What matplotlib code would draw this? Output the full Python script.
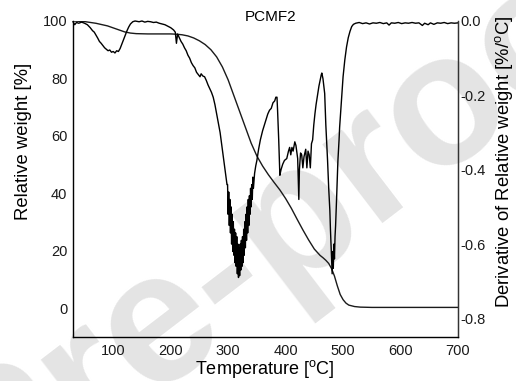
import matplotlib
matplotlib.use("Agg")
import matplotlib.pyplot as plt

plt.rcParams['font.family'] = ['Liberation Sans', 'DejaVu Sans']
plt.rcParams['mathtext.fontset'] = 'custom'
plt.rcParams['mathtext.rm'] = 'Liberation Sans'
plt.rcParams['axes.unicode_minus'] = False

# relative weight (smooth TGA curve)
wt_temp = [30, 50, 70, 90, 100, 110, 120, 130, 140, 160, 180, 200, 210, 220, 230,
           240, 250, 260, 270, 280, 290, 300, 310, 320, 330, 340, 350, 360, 370,
           380, 390, 400, 410, 420, 430, 440, 450, 460, 465, 470, 475, 480, 485,
           490, 495, 500, 505, 510, 520, 530, 550, 600, 650, 700]
wt_val = [100.0, 99.8, 99.2, 98.3, 97.6, 96.9, 96.2, 95.8, 95.6, 95.5, 95.5, 95.5, 95.4, 95.2, 94.8,
          94.1, 93.1, 91.8, 90.0, 87.5, 84.0, 79.5, 74.0, 68.5, 63.0, 57.5, 53.0, 49.5, 46.5,
          43.8, 41.2, 38.2, 34.8, 31.0, 27.3, 23.8, 20.6, 18.4, 17.6, 16.7, 15.6, 13.8, 11.2,
          7.8, 4.8, 3.0, 1.8, 1.1, 0.6, 0.4, 0.3, 0.3, 0.3, 0.3]

# derivative of relative weight (noisy DTG curve)
der_temp = [30, 33, 36, 40, 45, 50, 55, 60, 64, 67, 70, 73, 76, 79, 82, 85, 88, 91, 94, 97,
            100, 103, 106, 109, 112, 115, 118, 121, 124, 127, 130, 134, 138, 145, 150, 155,
            160, 165, 170, 175, 180, 185, 190, 195, 200, 205, 208, 210, 212, 215, 218, 221,
            224, 227, 230, 233, 236, 239, 242, 245, 248, 251, 253, 256, 259, 262, 265, 268,
            271, 274, 277, 280, 283, 286, 289, 292, 295, 298,
            299, 300, 301, 302, 303, 304, 305, 306, 307, 308, 309, 310, 311, 312, 313, 314,
            315, 316, 317, 318, 319, 320, 321, 322, 323, 324, 325, 326, 327, 328, 329, 330,
            331, 332, 333, 334, 335, 336, 337, 338, 339, 340, 341, 342, 343, 344, 346, 348,
            350, 353, 356, 360, 363, 366, 369, 372, 375, 378, 381, 383, 385, 386, 388, 390,
            392, 395, 398, 402, 405, 407, 409, 411, 413, 416, 418, 421, 423, 424, 426, 428,
            430, 432, 435, 437, 439, 441, 443, 445, 447, 449, 451, 453, 456, 458, 460, 462,
            463, 465, 468, 470, 473, 475, 477, 478, 479, 480, 481, 482, 483, 484, 485, 486,
            487, 488, 489, 490, 491, 493, 494, 496, 498, 500, 503, 506, 509, 512, 515, 518,
            522, 528, 534, 540, 546, 552, 558, 564, 570, 576, 580, 584, 590, 596, 602, 608,
            614, 620, 626, 632, 638, 642, 648, 652, 658, 664, 670, 676, 682, 688, 694, 700]
der_val = [-0.002, -0.010, -0.004, -0.006, -0.003, -0.006, -0.010, -0.018, -0.026, -0.030,
           -0.038, -0.046, -0.055, -0.060, -0.066, -0.072, -0.076, -0.080, -0.078, -0.084,
           -0.082, -0.086, -0.080, -0.082, -0.074, -0.062, -0.050, -0.038, -0.026, -0.016,
           -0.008, -0.002, 0.000, -0.002, 0.000, -0.003, -0.001, -0.002, -0.004, -0.003,
           -0.006, -0.008, -0.010, -0.014, -0.018, -0.024, -0.030, -0.060, -0.035, -0.045,
           -0.055, -0.062, -0.072, -0.080, -0.092, -0.100, -0.112, -0.120, -0.126, -0.138,
           -0.144, -0.150, -0.142, -0.148, -0.150, -0.160, -0.172, -0.182, -0.192, -0.205,
           -0.225, -0.250, -0.275, -0.300, -0.335, -0.370, -0.405, -0.440,
           -0.44, -0.52, -0.46, -0.55, -0.48, -0.57, -0.50, -0.60, -0.52, -0.62, -0.54, -0.63,
           -0.56, -0.65, -0.57, -0.66, -0.58, -0.68, -0.60, -0.69, -0.61, -0.685, -0.60, -0.67,
           -0.59, -0.66, -0.58, -0.65, -0.56, -0.63, -0.54, -0.61, -0.52, -0.59, -0.50, -0.57,
           -0.48, -0.55, -0.47, -0.52, -0.45, -0.50, -0.44, -0.48, -0.42, -0.45, -0.41, -0.39,
           -0.375, -0.345, -0.320, -0.295, -0.280, -0.265, -0.250, -0.240, -0.235, -0.220,
           -0.215, -0.205, -0.205, -0.240, -0.320, -0.415,
           -0.400, -0.385, -0.375, -0.370, -0.350, -0.340, -0.360, -0.340, -0.350, -0.325,
           -0.335, -0.370, -0.480, -0.400, -0.355, -0.360,
           -0.395, -0.365, -0.345, -0.395, -0.350, -0.360, -0.395, -0.330, -0.320, -0.280,
           -0.250, -0.225, -0.195, -0.175, -0.160, -0.145,
           -0.140, -0.155, -0.195, -0.280, -0.375, -0.450, -0.510, -0.560, -0.600, -0.640,
           -0.680, -0.620, -0.665, -0.600, -0.640, -0.580,
           -0.550, -0.510, -0.465, -0.420, -0.376, -0.320, -0.286, -0.240, -0.195, -0.150,
           -0.105, -0.070, -0.045, -0.028, -0.015, -0.009,
           -0.006, -0.004, -0.007, -0.005, -0.008, -0.005, -0.006, -0.004, -0.007, -0.005,
           -0.011, -0.005, -0.006, -0.004, -0.007, -0.005,
           -0.006, -0.004, -0.006, -0.005, -0.012, -0.006, -0.010, -0.005, -0.009, -0.005,
           -0.006, -0.004, -0.007, -0.005, -0.006, -0.005]

fig = plt.figure(figsize=(5.16, 3.81), dpi=100)

# journal watermark behind the plot
fig.text(0.072, -0.279, "Journal Pre-proof", fontsize=135, fontweight='bold',
         color='#e4e4e4', rotation=37.4, rotation_mode='anchor',
         ha='center', va='baseline', zorder=-5)

ax = fig.add_axes([73 / 516, 1 - 337 / 381, 385 / 516, 316 / 381])
ax.set_facecolor('none')
ax.plot(wt_temp, wt_val, color='#1a1a1a', lw=1.0)
ax.set_xlim(30, 700)
ax.set_ylim(-10, 100)
ax.set_xticks([100, 200, 300, 400, 500, 600, 700])
ax.set_yticks([0, 20, 40, 60, 80, 100])
ax.tick_params(axis='both', length=0, labelsize=10.5, colors='#1a1a1a')
ax.tick_params(axis='x', pad=5)
ax.tick_params(axis='y', pad=4)
ax.spines['top'].set_visible(False)
for s in ['left', 'bottom', 'right']:
    ax.spines[s].set_color('#333333')
    ax.spines[s].set_linewidth(1.0)

ax2 = ax.twinx()
ax2.plot(der_temp, der_val, color='black', lw=1.0, clip_on=False)
ax2.set_ylim(-0.85, 0.0)
ax2.set_yticks([0.0, -0.2, -0.4, -0.6, -0.8])
ax2.set_yticklabels(['0.0', '-0.2', '-0.4', '-0.6', '-0.8'])
ax2.tick_params(axis='y', length=0, pad=1.5, labelsize=10.5, colors='#1a1a1a')
ax2.spines['top'].set_visible(False)
ax2.spines['right'].set_color('#333333')

fig.text(271 / 516, 1 - 17 / 381, "PCMF2", fontsize=11, ha='center', va='center')
fig.text(265 / 516, 1 - 369 / 381, r"Temperature [$^{\mathrm{o}}$C]", fontsize=13,
         ha='center', va='center')
fig.text(24 / 516, 1 - 141 / 381, "Relative weight [%]", fontsize=13.3,
         rotation=90, ha='center', va='center')
fig.text(504 / 516, 1 - 162 / 381, r"Derivative of Relative weight [%/$^{\mathrm{o}}$C]",
         fontsize=13.3, rotation=90, ha='center', va='center')

fig.savefig("out.png", dpi=100)
